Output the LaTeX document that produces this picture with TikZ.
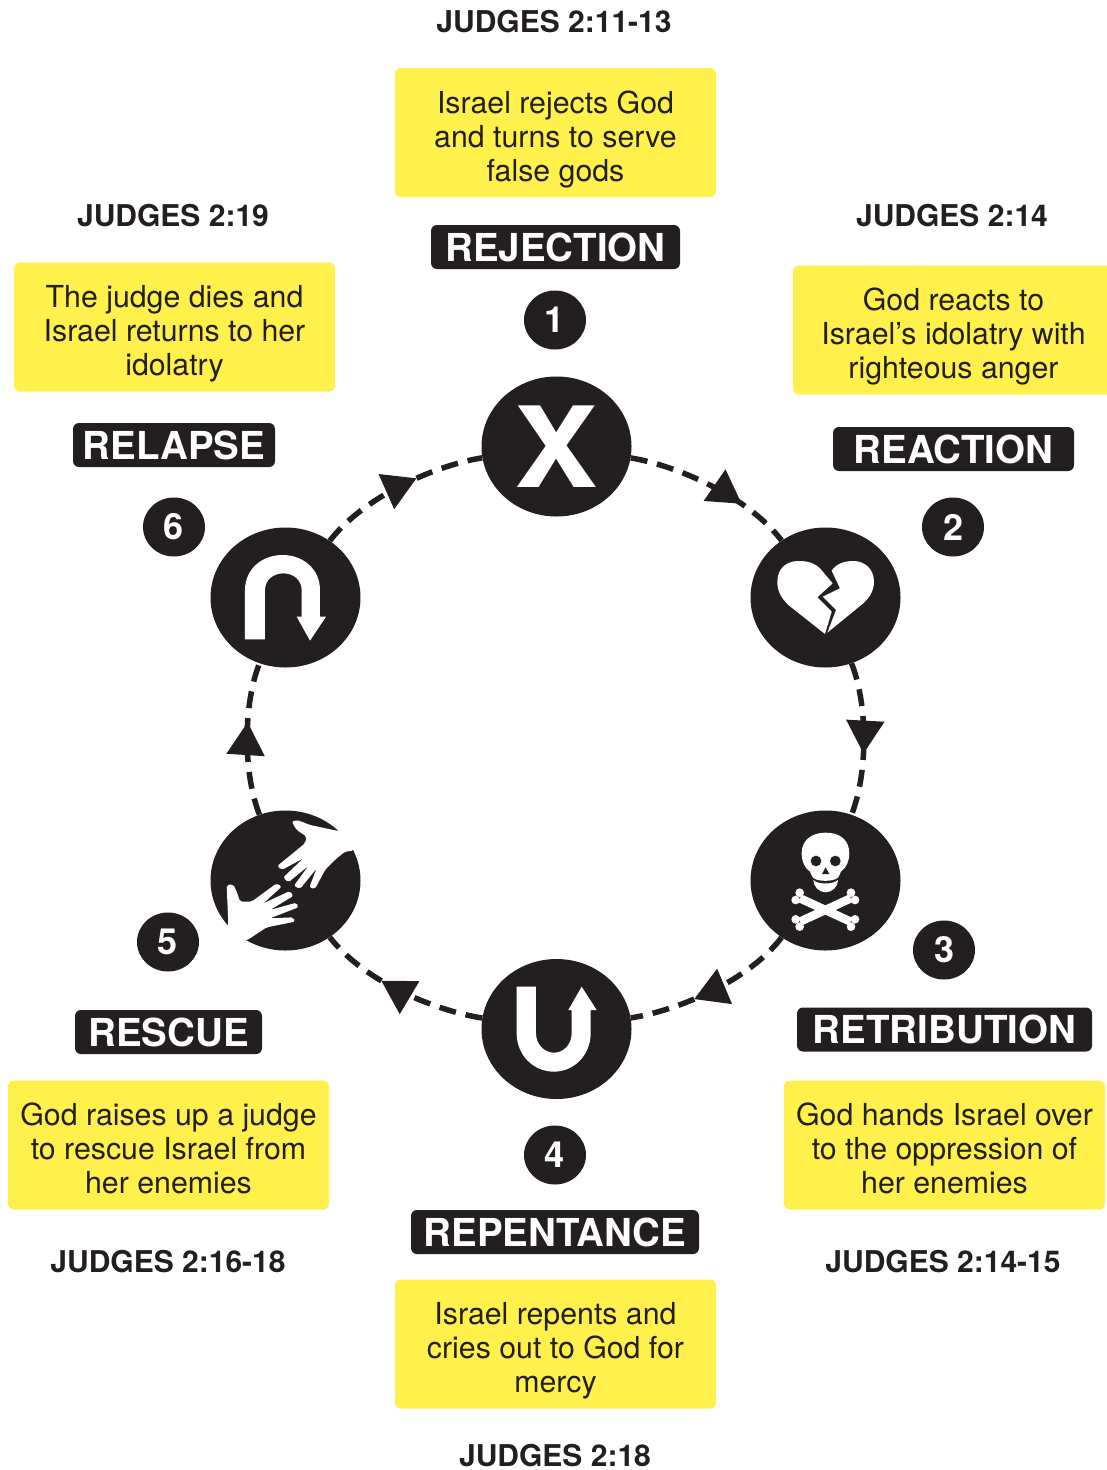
\documentclass[tikz,border=0pt]{standalone}
\usepackage{fontspec}
\setmainfont{TeX Gyre Heros}
\usetikzlibrary{shapes.geometric,decorations.markings,arrows.meta}
\definecolor{ink}{HTML}{231F20}
\definecolor{ybg}{HTML}{FFF04B}
\newcommand{\lowerbox}{\rule{0pt}{36pt}}
\newcommand{\lowerboxb}{\rule{0pt}{30pt}}
\tikzset{
  yellowbox/.style={fill=ybg,rounded corners=6pt,minimum width=321pt,minimum height=129pt,align=center,text=ink,inner sep=0pt,font=\fontsize{30.3}{34}\selectfont},
  tag/.style={fill=ink,rounded corners=6pt,minimum height=44pt,inner sep=0pt,text=white,font=\fontsize{38.5}{38.5}\selectfont\bfseries},
  verse/.style={text=ink,inner sep=0pt,font=\fontsize{30}{32}\selectfont\bfseries},
  numdot/.style={ellipse,fill=ink,minimum width=62pt,minimum height=59pt,inner sep=0pt,text=white,font=\fontsize{36}{36}\selectfont\bfseries},
  bigdot/.style={ellipse,fill=ink,minimum width=150pt,minimum height=140pt,inner sep=0pt},
  ringline/.style={draw=ink,line width=5.5pt,dash pattern=on 17pt off 10pt},
  headat/.style={postaction={decorate},decoration={markings,mark=at position #1 with {\arrow[ink]{Triangle[length=33pt,width=37pt]}}}},
  icon/.style={fill=white,draw=none},
}
\begin{document}
\begin{tikzpicture}[x=1pt,y=-1pt]
\useasboundingbox (0,0) rectangle (1107,1470);
\clip (0,0) rectangle (1107,1470);
\fill[white] (0,0) rectangle (1107,1470);
% big circles
\node[bigdot,text=white,font=\fontsize{112}{112}\selectfont\bfseries] (n1) at (556.5,446.5) {\scalebox{1.12}[1]{X}};
\node[bigdot] (n2) at (825.5,597.5) {};
\node[bigdot] (n3) at (825.5,880.5) {};
\node[bigdot] (n4) at (556.5,1029) {};
\node[bigdot] (n5) at (285.5,880.5) {};
\node[bigdot] (n6) at (285.5,597.5) {};
% connectors
\draw[ringline,headat=0.69] (n1) .. controls (670,464) and (745,493) .. (n2);
\draw[ringline,headat=0.595] (n2) .. controls (868,705) and (868,773) .. (n3);
\draw[ringline,headat=0.62] (n3) .. controls (745,985) and (670,1012) .. (n4);
\draw[ringline,headat=0.615] (n4) .. controls (442,1012) and (367,985) .. (n5);
\draw[ringline,headat=0.61] (n5) .. controls (243,773) and (243,705) .. (n6);
\draw[ringline,headat=0.61] (n6) .. controls (367,493) and (442,464) .. (n1);
% broken heart
\begin{scope}[shift={(730,500)},x=0.3333pt,y=-0.3333pt]
\fill[icon] (285,402) -- (175,315) .. controls (150,290) and (142,270) .. (142,245) .. controls (142,205) and (170,183) .. (205,183) .. controls (235,183) and (255,190) .. (270,205) -- (308,250) -- (262,292) -- (305,335) -- cycle;
\fill[icon] (292,398) -- (318,330) -- (278,290) -- (330,265) -- (305,212) .. controls (320,190) and (345,183) .. (370,183) .. controls (405,183) and (432,208) .. (432,245) .. controls (432,270) and (420,292) .. (400,310) -- cycle;
\end{scope}
% skull and bones
\begin{scope}[shift={(730,790)},x=0.3333pt,y=-0.3333pt]
\fill[icon] (287,128) .. controls (245,128) and (215,150) .. (215,190) .. controls (215,215) and (225,235) .. (240,245) -- (248,262) .. controls (260,276) and (312,276) .. (325,262) -- (333,245) .. controls (350,232) and (358,212) .. (358,190) .. controls (358,150) and (330,128) .. (287,128) -- cycle;
\fill[icon] (250,270) .. controls (265,284) and (308,284) .. (324,270) .. controls (325,290) and (305,307) .. (287,307) .. controls (268,307) and (250,290) .. (250,270) -- cycle;
\fill[ink] (258,213) circle[radius=16];
\fill[ink] (316,213) circle[radius=16];
\fill[ink] (287,232) -- (298,252) -- (276,252) -- cycle;
\draw[white,line width=8.5pt] (210,325) -- (362,395);
\draw[white,line width=8.5pt] (362,325) -- (210,395);
\foreach \px/\py in {209/308,197/330,363/308,375/330,209/410,197/388,363/410,375/388}
  \fill[icon] (\px,\py) circle[radius=13];
\end{scope}
% U-turn, up
\begin{scope}[shift={(470,940)},x=0.3333pt,y=-0.3333pt]
\fill[icon] (140,140) -- (198,140) -- (198,280) .. controls (198,312) and (222,338) .. (252,338) .. controls (282,338) and (305,312) .. (305,280) -- (305,210) -- (295,210) -- (335,140) -- (380,210) -- (362,210) -- (362,280) .. controls (362,345) and (312,395) .. (252,395) .. controls (190,395) and (140,345) .. (140,280) -- cycle;
\end{scope}
% hands
\begin{scope}[shift={(190,790)},x=0.3333pt,y=-0.3333pt]
\fill[icon,rounded corners=2pt] (305,95) -- (322,90) -- (360,105) -- (440,122) -- (530,130) -- (490,182) -- (465,185) -- (440,205) -- (405,240) -- (375,297) -- (358,292) -- (380,235) -- (330,297) -- (312,287) -- (355,228) -- (295,277) -- (280,262) -- (340,205) -- (275,240) -- (262,228) -- (345,160) -- (350,140) -- (320,120) -- cycle;
\fill[icon,rounded corners=2pt] (110,285) -- (130,283) -- (142,310) -- (150,335) -- (185,335) -- (260,280) -- (275,290) -- (220,340) -- (300,303) -- (310,318) -- (240,360) -- (320,338) -- (325,352) -- (240,385) -- (310,382) -- (315,395) -- (230,412) -- (172,450) -- (90,470) -- (115,403) -- cycle;
\end{scope}
% U-turn, down
\begin{scope}[shift={(190,510)},x=0.3333pt,y=-0.3333pt]
\fill[icon] (165,388) -- (165,240) .. controls (165,178) and (215,135) .. (278,135) .. controls (340,135) and (390,178) .. (390,240) -- (390,320) -- (408,320) -- (360,392) -- (320,320) -- (335,320) -- (335,240) .. controls (335,210) and (310,190) .. (280,190) .. controls (250,190) and (225,210) .. (225,240) -- (225,388) -- cycle;
\end{scope}
% number dots
\node[numdot] (d1) at (555,320) {1};
\node[numdot] (d2) at (953,527) {2};
\node[numdot] (d3) at (944,950) {3};
\node[numdot] (d4) at (555,1155) {4};
\node[numdot] (d5) at (168,942) {5};
\node[numdot] (d6) at (174,527) {6};
% tags
\node[tag,minimum width=249pt] (t1) at (555.5,247) {REJECTION};
\node[tag,minimum width=241pt] (t2) at (953.5,449) {REACTION};
\node[tag,minimum width=295pt] (t3) at (944.5,1029.5) {RETRIBUTION};
\node[tag,minimum width=288pt] (t4) at (555,1232) {REPENTANCE};
\node[tag,minimum width=187pt] (t5) at (168.5,1032) {RESCUE};
\node[tag,minimum width=202pt] (t6) at (174,445) {RELAPSE};
% yellow boxes
\node[yellowbox] (b1) at (555.5,132.5) {\lowerbox Israel rejects God\\and turns to serve\\false gods};
\node[yellowbox] (b2) at (953.5,330) {\lowerbox God reacts to\\Israel’s idolatry with\\righteous anger};
\node[yellowbox] (b3) at (944.5,1145) {\lowerboxb God hands Israel over\\to the oppression of\\her enemies};
\node[yellowbox] (b4) at (555.5,1344) {\lowerbox Israel repents and\\cries out to God for\\mercy};
\node[yellowbox] (b5) at (168.5,1145) {\lowerboxb God raises up a judge\\to rescue Israel from\\her enemies};
\node[yellowbox] (b6) at (174.5,327) {\lowerbox The judge dies and\\Israel returns to her\\idolatry};
% verses
\node[verse] (v1) at (554,21.5) {JUDGES 2:11-13};
\node[verse] (v2) at (952,216) {JUDGES 2:14};
\node[verse] (v3) at (943,1262) {JUDGES 2:14-15};
\node[verse] (v4) at (555,1455.5) {JUDGES 2:18};
\node[verse] (v5) at (168,1262) {JUDGES 2:16-18};
\node[verse] (v6) at (173,216) {JUDGES 2:19};
\end{tikzpicture}
\end{document}
